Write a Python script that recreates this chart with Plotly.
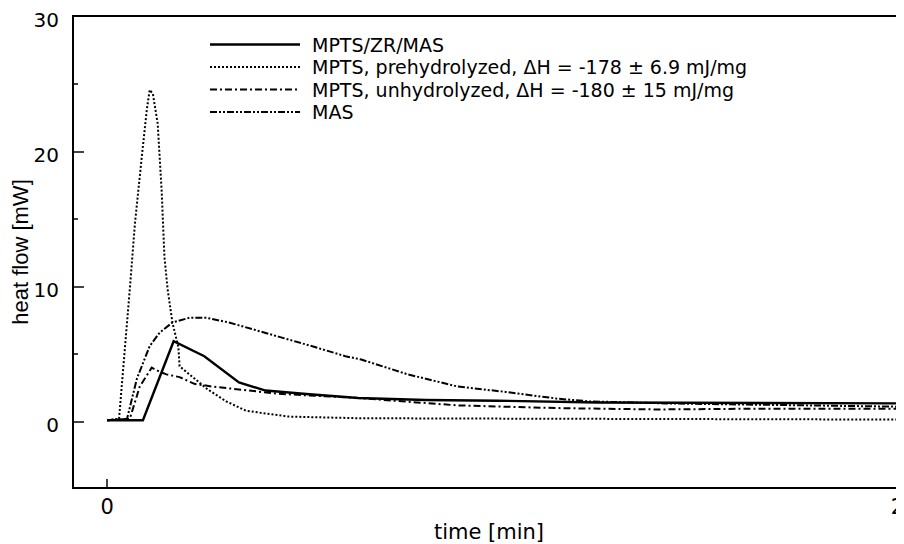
import plotly.graph_objects as go

# ---- data ----
t_zr = [0.0, 0.9, 1.67, 2.44, 3.31, 3.98, 5.0, 6.3, 8.0, 9.8, 12.3, 16.0, 20.0]
v_zr = [0.1, 0.1, 5.96, 4.85, 2.9, 2.3, 2.05, 1.75, 1.6, 1.55, 1.42, 1.38, 1.35]

t_pre = [0.0, 0.3, 0.57, 0.70, 0.87, 1.0, 1.07, 1.15, 1.27, 1.37, 1.44, 1.52, 1.64, 1.74,
         1.79, 1.82, 2.19, 2.52, 2.99, 3.49, 4.56, 6.3, 9.8, 14.0, 20.0]
v_pre = [0.1, 0.2, 9.8, 14.7, 19.6, 23.2, 24.6, 24.3, 22.1, 17.1, 12.2, 9.8, 7.35, 6.1,
         5.5, 4.1, 3.2, 2.4, 1.5, 0.8, 0.37, 0.25, 0.22, 0.18, 0.15]

t_unh = [0.0, 0.57, 0.82, 1.12, 1.32, 1.49, 1.82, 2.19, 2.64, 3.49, 4.3, 6.3, 8.8, 11.3, 13.8, 16.0, 20.0]
v_unh = [0.1, 0.2, 2.6, 4.0, 3.7, 3.5, 3.3, 2.8, 2.6, 2.3, 2.06, 1.75, 1.2, 1.0, 0.9, 0.95, 0.95]

t_mas = [0.0, 0.5, 0.75, 0.87, 1.07, 1.32, 1.64, 2.07, 2.49, 3.06, 3.74, 4.3, 5.13, 5.98,
         6.38, 7.55, 8.8, 10.0, 11.3, 12.1, 14.0, 17.0, 20.0]
v_mas = [0.1, 0.2, 3.2, 4.1, 5.6, 6.6, 7.35, 7.7, 7.7, 7.35, 6.8, 6.3, 5.6, 4.85,
         4.6, 3.5, 2.6, 2.2, 1.7, 1.5, 1.35, 1.2, 1.1]

names = [
    "MPTS/ZR/MAS",
    "MPTS, prehydrolyzed, \u0394H = -178 \u00b1 6.9 mJ/mg",
    "MPTS, unhydrolyzed, \u0394H = -180 \u00b1 15 mJ/mg",
    "MAS",
]
x_ticks = [0, 20]
y_ticks = [0, 10, 20, 30]

# ---- styles ----
dashes = ["solid", "2px,2px", "7px,3px,2px,3px", "7px,2px,2px,2px,2px,2px"]
widths = [2.4, 2.0, 2.0, 2.0]
series = [(t_zr, v_zr), (t_pre, v_pre), (t_unh, v_unh), (t_mas, v_mas)]

WIDE = "DejaVu Sans, Verdana, sans-serif"
NARROW = "Liberation Sans, Arial, sans-serif"

fig = go.Figure()
for (tx, vy), nm, d, w in zip(series, names, dashes, widths):
    fig.add_trace(go.Scatter(x=tx, y=vy, name=nm, mode="lines",
                             line=dict(color="black", width=w, dash=d),
                             showlegend=False))

# page has an 8px body margin: div occupies 8..904 x 8..544
OFF = 8
W, H = 904 - OFF, 544 - OFF
L, T, B = 74 - OFF, 17 - OFF, 57
pw, ph = W - L, H - T - B

# custom legend with long line samples (page-pixel rows)
rows_y = [44.5, 67, 89.5, 112]
for nm, d, w, ry in zip(names, dashes, widths, rows_y):
    yp = 1 - (ry - OFF - T) / ph
    fig.add_shape(type="line", xref="paper", yref="paper",
                  x0=(210 - OFF - L) / pw, x1=(300 - OFF - L) / pw, y0=yp, y1=yp,
                  line=dict(color="black", width=w, dash=d))
    fig.add_annotation(xref="paper", yref="paper", x=(311 - OFF - L) / pw, y=yp,
                       text=nm, showarrow=False, xanchor="left", yanchor="middle",
                       borderpad=0,
                       font=dict(family=WIDE, size=19, color="black"))

fig.update_layout(
    width=W, height=H,
    margin=dict(l=L, r=0, t=T, b=B, autoexpand=False),
    paper_bgcolor="white", plot_bgcolor="white",
    font=dict(family=WIDE, size=21, color="black"),
    xaxis=dict(range=[-0.83, 20.0], tickvals=x_ticks, ticks="inside", ticklen=8,
               tickwidth=2, showline=True, linewidth=2, linecolor="black",
               mirror=True, showgrid=False, zeroline=False, automargin=False,
               ticklabeloverflow="allow", ticklabelstandoff=0,
               title=dict(text="time [min]", standoff=6, font=dict(family=WIDE, size=21))),
    yaxis=dict(range=[-4.85, 30], tickvals=y_ticks, ticks="inside", ticklen=10,
               tickwidth=2, showline=True, linewidth=2, linecolor="black",
               showgrid=False, zeroline=False, automargin=False,
               ticklabeloverflow="allow", ticklabelstandoff=9, ticklabelshift=3,
               tickfont=dict(family=WIDE, size=20),
               minor=dict(ticks="inside", ticklen=4, dtick=5, tickwidth=1.5,
                          showgrid=False),
               title=dict(text="heat flow [mW]", standoff=8,
                          font=dict(family=NARROW, size=22))),
)

fig.write_html("out.html")
